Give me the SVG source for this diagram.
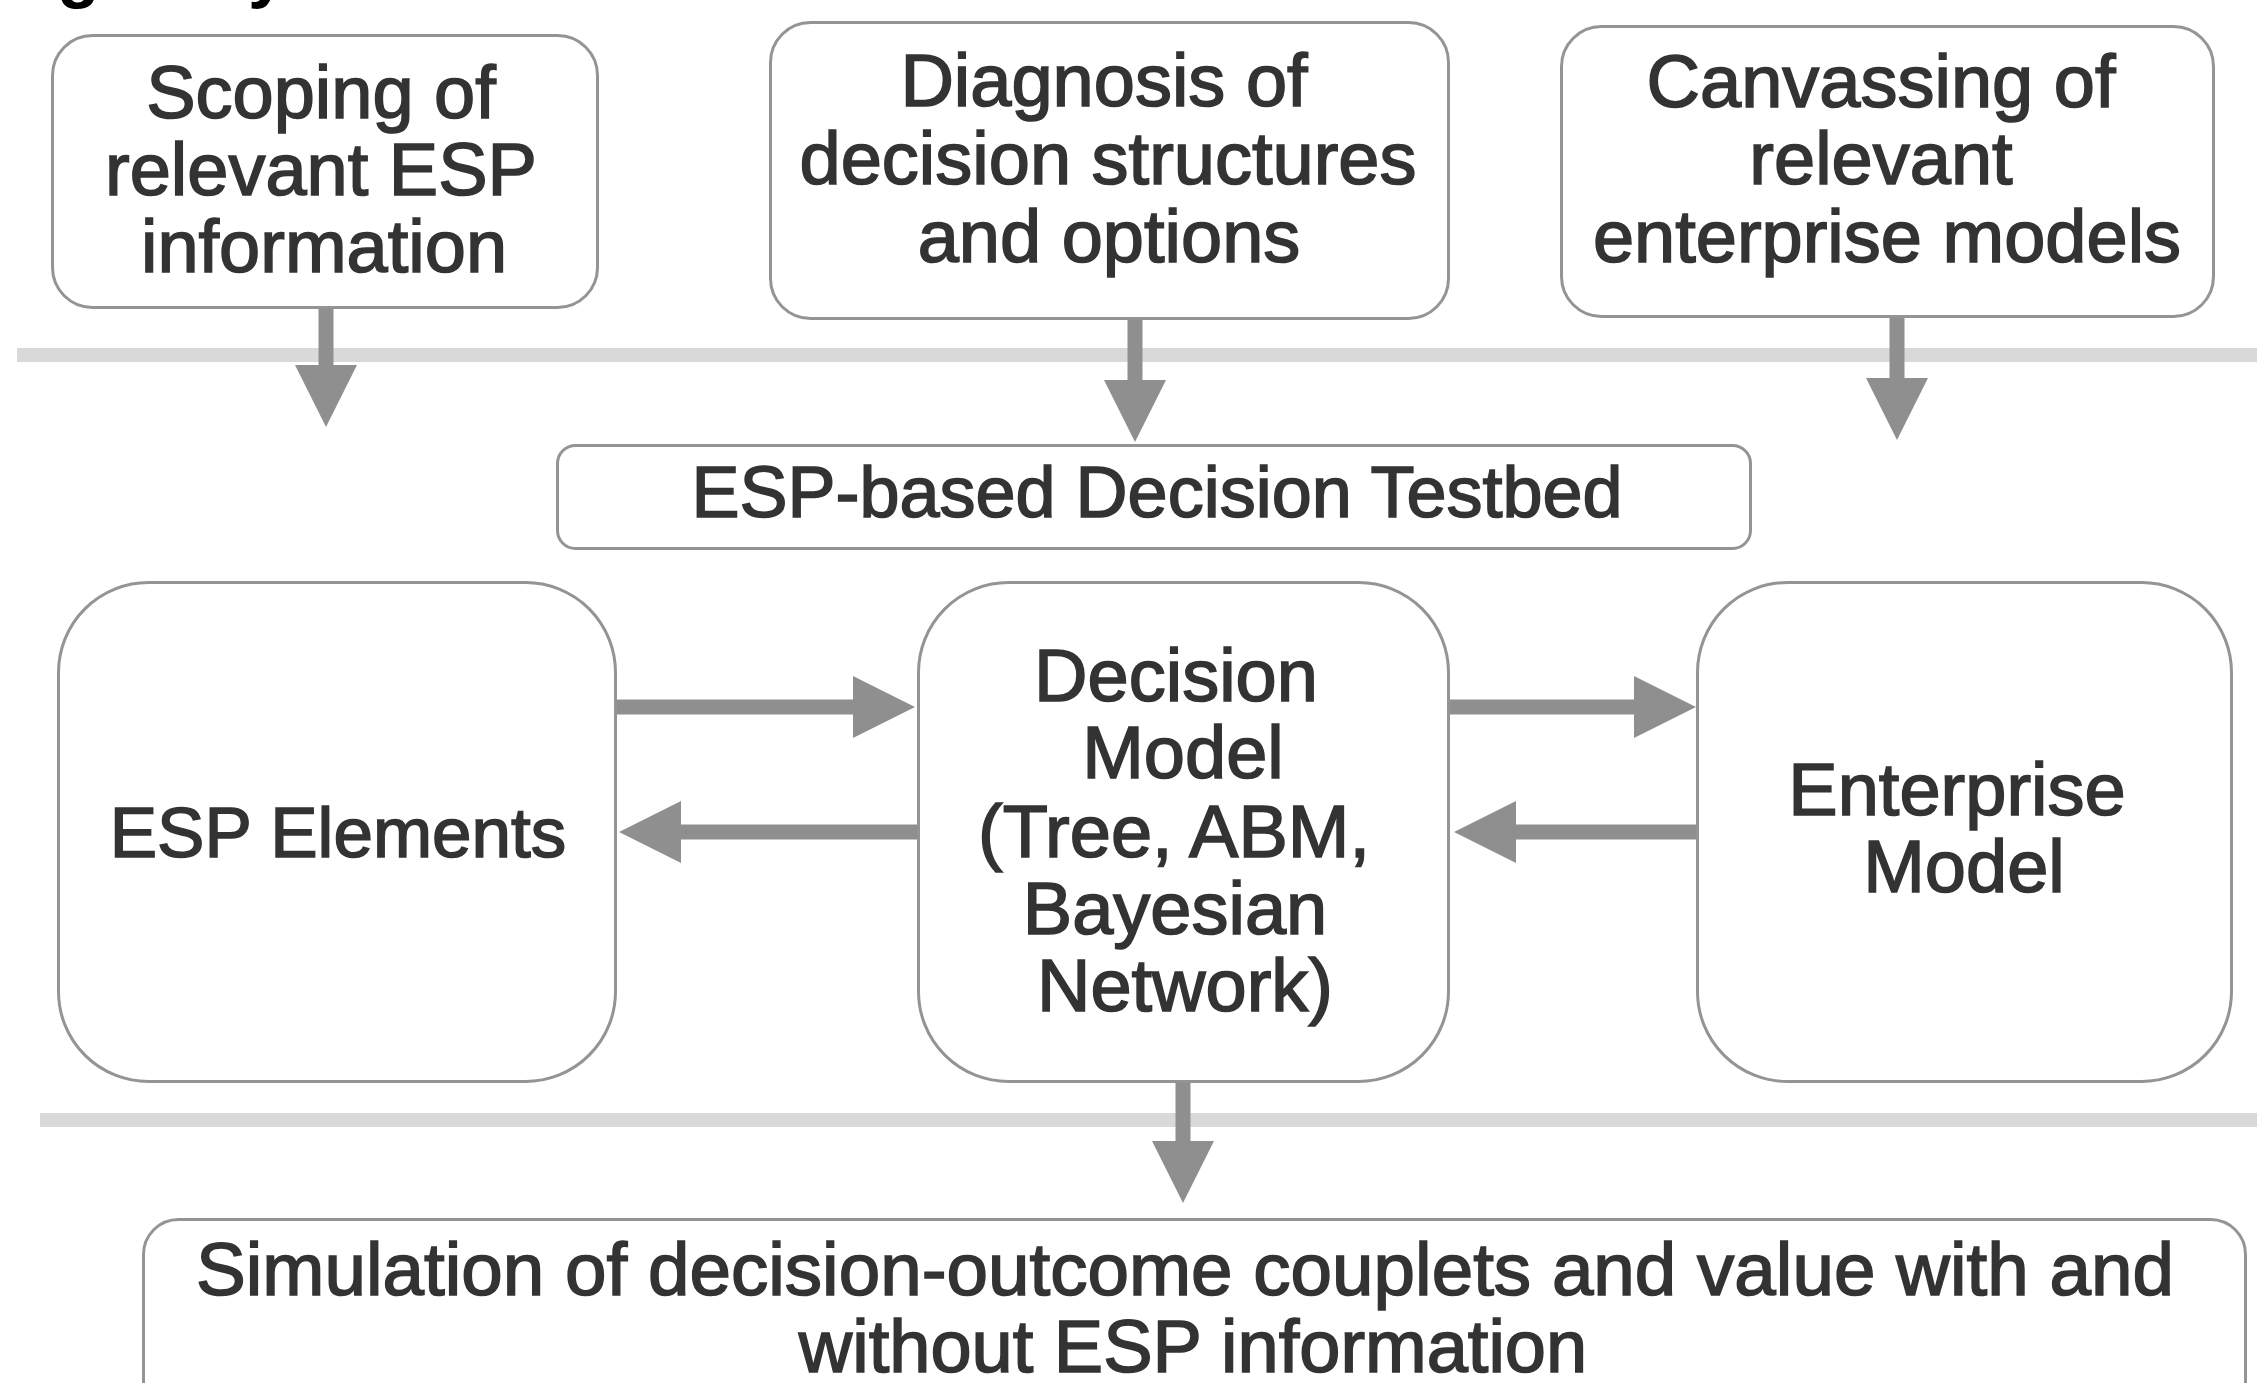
<svg xmlns="http://www.w3.org/2000/svg" width="2257" height="1383" viewBox="0 0 2257 1383">
<style>
  .box { fill: #ffffff; stroke: #949494; stroke-width: 3; }
  .lbl { font-family: "Liberation Sans", Arial, sans-serif; font-size: 74px; fill: #333333; stroke: #333333; stroke-width: 1.6; text-anchor: middle; }
  .sep { stroke: #d9d9d9; stroke-width: 14; }
  .arr { stroke: #8f8f8f; stroke-width: 15; fill: none; marker-end: url(#head); }
  .ttl { font-family: "Liberation Sans", Arial, sans-serif; font-size: 70px; font-weight: bold; fill: #000000; }
</style>
<defs>
  <marker id="head" viewBox="0 0 62 62" refX="4" refY="31" markerWidth="62" markerHeight="62" markerUnits="userSpaceOnUse" orient="auto">
    <path d="M0,0 L62,31 L0,62 Z" fill="#8f8f8f"/>
  </marker>
</defs>
<rect width="2257" height="1383" fill="#ffffff"/>
<g id="title-fragment">
  <text class="ttl" x="57" y="-6">g</text>
  <text class="ttl" x="248" y="-6">y</text>
</g>
<g id="separators">
  <line class="sep" x1="17" y1="355" x2="2257" y2="355"/>
  <line class="sep" x1="40" y1="1120" x2="2257" y2="1120"/>
</g>
<g id="node-scoping">
  <rect class="box" x="52.5" y="35.5" width="545" height="272" rx="40"/>
  <text class="lbl" x="321" y="118">Scoping of</text>
  <text class="lbl" x="321" y="195">relevant ESP</text>
  <text class="lbl" x="324" y="272">information</text>
</g>
<g id="node-diagnosis">
  <rect class="box" x="770.5" y="22.5" width="678" height="296" rx="40"/>
  <text class="lbl" x="1104" y="106">Diagnosis of</text>
  <text class="lbl" x="1108" y="184">decision structures</text>
  <text class="lbl" x="1109" y="262">and options</text>
</g>
<g id="node-canvassing">
  <rect class="box" x="1561.5" y="26.5" width="652" height="290" rx="40"/>
  <text class="lbl" x="1881" y="107">Canvassing of</text>
  <text class="lbl" x="1881" y="184">relevant</text>
  <text class="lbl" x="1887" y="262">enterprise models</text>
</g>
<g id="node-testbed">
  <rect class="box" x="557.5" y="445.5" width="1193" height="103" rx="18"/>
  <text class="lbl" x="1157" y="517" style="font-size:72px">ESP-based Decision Testbed</text>
</g>
<g id="node-esp-elements">
  <rect class="box" x="58.5" y="582.5" width="557" height="499" rx="90"/>
  <text class="lbl" x="338" y="857" style="font-size:71px">ESP Elements</text>
</g>
<g id="node-decision-model">
  <rect class="box" x="918.5" y="582.5" width="530" height="499" rx="90"/>
  <text class="lbl" x="1176" y="701">Decision</text>
  <text class="lbl" x="1183" y="778">Model</text>
  <text class="lbl" x="1174" y="857">(Tree, ABM,</text>
  <text class="lbl" x="1175" y="934">Bayesian</text>
  <text class="lbl" x="1185" y="1011">Network)</text>
</g>
<g id="node-enterprise-model">
  <rect class="box" x="1697.5" y="582.5" width="534" height="499" rx="90"/>
  <text class="lbl" x="1957" y="815">Enterprise</text>
  <text class="lbl" x="1964" y="892">Model</text>
</g>
<g id="node-simulation">
  <rect class="box" x="143.5" y="1219.5" width="2102" height="220" rx="35"/>
  <text class="lbl" x="1185" y="1295" style="font-size:74.6px">Simulation of decision-outcome couplets and value with and</text>
  <text class="lbl" x="1193" y="1372">without ESP information</text>
</g>
<g id="connectors">
  <line class="arr" x1="326" y1="309" x2="326" y2="369"/>
  <line class="arr" x1="1135" y1="320" x2="1135" y2="384"/>
  <line class="arr" x1="1897" y1="318" x2="1897" y2="382"/>
  <line class="arr" x1="617" y1="707" x2="857" y2="707"/>
  <line class="arr" x1="917" y1="832" x2="677" y2="832"/>
  <line class="arr" x1="1450" y1="707" x2="1638" y2="707"/>
  <line class="arr" x1="1696" y1="832" x2="1512" y2="832"/>
  <line class="arr" x1="1183" y1="1083" x2="1183" y2="1145"/>
</g>
</svg>
